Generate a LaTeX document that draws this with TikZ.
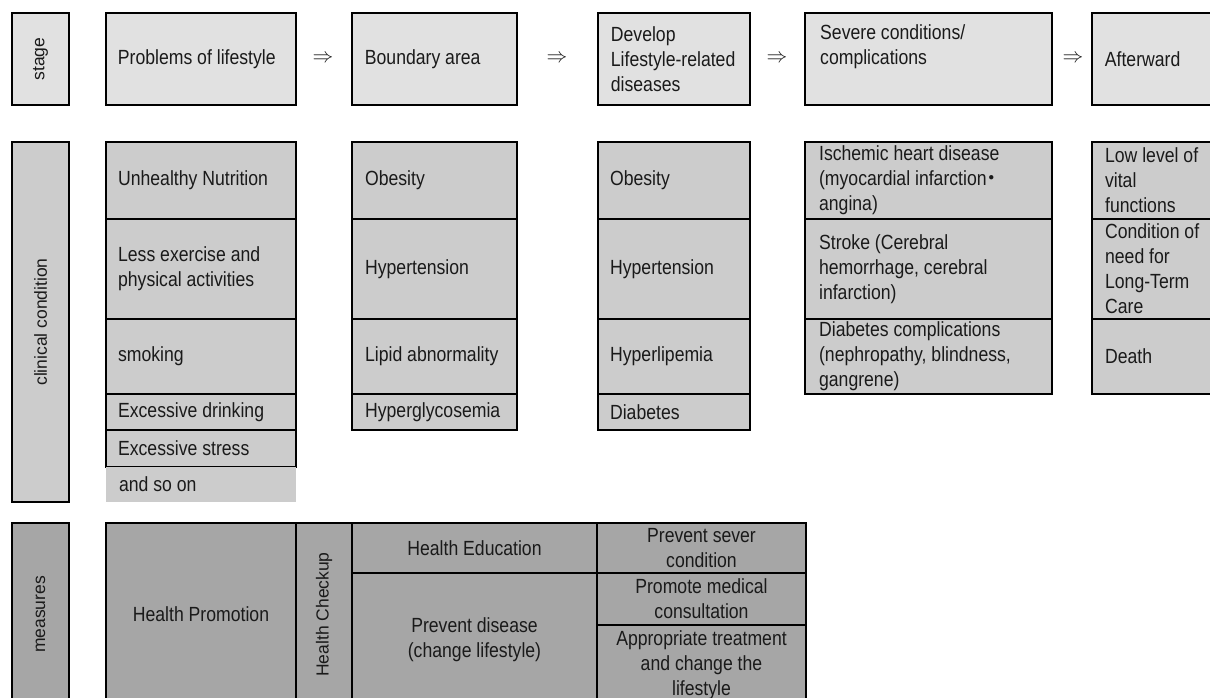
\documentclass[tikz,border=0pt]{standalone}
\usepackage{fontspec}
\setmainfont{Liberation Sans}[FakeStretch=0.86]
\newfontfamily\rotfont{Liberation Sans}
\newfontfamily\cjk{Noto Sans CJK JP}

\definecolor{topfill}{HTML}{E1E1E1}
\definecolor{clinfill}{HTML}{CCCCCC}
\definecolor{measfill}{HTML}{A6A6A6}
\definecolor{inkcol}{HTML}{1A1A1A}

\tikzset{
  topbox/.style={draw=black, line width=2.6pt, fill=topfill, inner sep=0pt},
  clinbox/.style={draw=black, line width=2.2pt, fill=clinfill, inner sep=0pt},
  plainbox/.style={draw=none, fill=clinfill, inner sep=0pt},
  measbox/.style={draw=black, line width=2.2pt, fill=measfill, inner sep=0pt},
  txt/.style={font=\fontsize{20.5}{25}\selectfont, text=inkcol, inner sep=0pt, align=left, anchor=west},
  ctxt/.style={font=\fontsize{20.5}{25}\selectfont, text=inkcol, inner sep=0pt, align=center},
  rotlabel/.style={font=\rotfont\fontsize{17.5}{20}\selectfont, text=inkcol, inner sep=0pt, rotate=90},
  flowsym/.style={font=\fontsize{22}{22}\selectfont, text=inkcol, inner sep=0pt}
}

% cell: name, x1, y1, x2, y2, style
\newcommand\cellbox[6]{%
  \node[#6, minimum width={#4-#2}, minimum height={#5-#3}] (#1) at ({(#2+#4)/2},{(#3+#5)/2}) {};}

\begin{document}
\begin{tikzpicture}[x=1pt, y=-1pt]
\useasboundingbox (0,0) rectangle (1210,698);

% ---------------- stage row ----------------
\cellbox{stage}{12}{13}{69}{105}{topbox}
\node[rotlabel] (stage-t) at (stage.center) {stage};

\cellbox{sprob}{106}{13}{296}{105}{topbox}
\node[txt] (sprob-t) at ([xshift=13pt]sprob.west) {Problems of lifestyle};
\node[flowsym] (ar1) at (323,59) {$\Rightarrow$};

\cellbox{sbound}{352}{13}{517}{105}{topbox}
\node[txt] (sbound-t) at ([xshift=14pt]sbound.west) {Boundary area};
\node[flowsym] (ar2) at (557,59) {$\Rightarrow$};

\cellbox{sdevel}{598}{13}{750}{105}{topbox}
\node[txt] (sdevel-t) at ([xshift=14pt]sdevel.west) {Develop\\Lifestyle-related\\diseases};
\node[flowsym] (ar3) at (777,59) {$\Rightarrow$};

\cellbox{ssevere}{805}{13}{1052}{105}{topbox}
\node[txt, anchor=north west] (ssevere-t) at (820,24) {Severe conditions/\\complications};
\node[flowsym] (ar4) at (1073,59) {$\Rightarrow$};

\cellbox{safter}{1092}{13}{1216}{105}{topbox}
\node[txt] (safter-t) at ([xshift=14pt]safter.west) {Afterward};

% ---------------- clinical condition row ----------------
\cellbox{clin}{12}{142}{69}{502}{clinbox}
\node[rotlabel] (clin-t) at (clin.center) {clinical condition};

% problems of lifestyle
\cellbox{pa1}{106}{142}{296}{219}{clinbox}
\node[txt] (pa1-t) at ([xshift=13pt]pa1.west) {Unhealthy Nutrition};
\cellbox{pa2}{106}{219}{296}{319}{clinbox}
\node[txt] (pa2-t) at ([xshift=13pt]pa2.west) {Less exercise and\\physical activities};
\cellbox{pa3}{106}{319}{296}{394}{clinbox}
\node[txt] (pa3-t) at ([xshift=13pt]pa3.west) {smoking};
\cellbox{pa4}{106}{394}{296}{430}{clinbox}
\node[txt] (pa4-t) at ([xshift=13pt]pa4.west) {Excessive drinking};
\cellbox{pa5}{106}{430}{296}{467}{clinbox}
\node[txt] (pa5-t) at ([xshift=13pt]pa5.west) {Excessive stress};
\cellbox{pa6}{106}{467}{296}{502}{plainbox}
\node[txt] (pa6-t) at ([xshift=13pt]pa6.west) {and so on};

% boundary area
\cellbox{pb1}{352}{142}{517}{219}{clinbox}
\node[txt] (pb1-t) at ([xshift=14pt]pb1.west) {Obesity};
\cellbox{pb2}{352}{219}{517}{319}{clinbox}
\node[txt] (pb2-t) at ([xshift=14pt]pb2.west) {Hypertension};
\cellbox{pb3}{352}{319}{517}{394}{clinbox}
\node[txt] (pb3-t) at ([xshift=14pt]pb3.west) {Lipid abnormality};
\cellbox{pb4}{352}{394}{517}{430}{clinbox}
\node[txt] (pb4-t) at ([xshift=14pt]pb4.west) {Hyperglycosemia};

% lifestyle-related diseases
\cellbox{pc1}{598}{142}{750}{219}{clinbox}
\node[txt] (pc1-t) at ([xshift=13pt]pc1.west) {Obesity};
\cellbox{pc2}{598}{219}{750}{319}{clinbox}
\node[txt] (pc2-t) at ([xshift=13pt]pc2.west) {Hypertension};
\cellbox{pc3}{598}{319}{750}{394}{clinbox}
\node[txt] (pc3-t) at ([xshift=13pt]pc3.west) {Hyperlipemia};
\cellbox{pc4}{598}{394}{750}{430}{clinbox}
\node[txt] (pc4-t) at ([xshift=13pt]pc4.west) {Diabetes};

% severe conditions
\cellbox{pd1}{805}{142}{1052}{219}{clinbox}
\node[txt] (pd1-t) at ([xshift=15pt]pd1.west) {Ischemic heart disease\\(myocardial infarction\kern-5pt{\cjk ・}\\angina)};
\cellbox{pd2}{805}{219}{1052}{319}{clinbox}
\node[txt] (pd2-t) at ([xshift=15pt]pd2.west) {Stroke (Cerebral\\hemorrhage, cerebral\\infarction)};
\cellbox{pd3}{805}{319}{1052}{394}{clinbox}
\node[txt] (pd3-t) at ([xshift=15pt]pd3.west) {Diabetes complications\\(nephropathy, blindness,\\gangrene)};

% afterward
\cellbox{pe1}{1092}{142}{1216}{219}{clinbox}
\node[txt] (pe1-t) at ([xshift=14pt]pe1.west) {Low level of\\vital\\functions};
\cellbox{pe2}{1092}{219}{1216}{319}{clinbox}
\node[txt] (pe2-t) at ([xshift=14pt]pe2.west) {Condition of\\need for\\Long-Term\\Care};
\cellbox{pe3}{1092}{319}{1216}{394}{clinbox}
\node[txt] (pe3-t) at ([xshift=14pt]pe3.west) {Death};

% ---------------- measures row ----------------
\cellbox{meas}{12}{523}{69}{706}{measbox}
\node[rotlabel] (meas-t) at (meas.center) {measures};

\cellbox{hprom}{106}{523}{296}{706}{measbox}
\node[ctxt] (hprom-t) at (hprom.center) {Health Promotion};
\cellbox{hchk}{296}{523}{352}{706}{measbox}
\node[rotlabel] (hchk-t) at (hchk.center) {Health Checkup};
\cellbox{hedu}{352}{523}{597}{573}{measbox}
\node[ctxt] (hedu-t) at (hedu.center) {Health Education};
\cellbox{hprev}{352}{573}{597}{706}{measbox}
\node[ctxt] (hprev-t) at (hprev.center) {Prevent disease\\(change lifestyle)};
\cellbox{mr1}{597}{523}{806}{573}{measbox}
\node[ctxt] (mr1-t) at (mr1.center) {Prevent sever\\condition};
\cellbox{mr2}{597}{573}{806}{625}{measbox}
\node[ctxt] (mr2-t) at (mr2.center) {Promote medical\\consultation};
\cellbox{mr3}{597}{625}{806}{706}{measbox}
\node[ctxt] (mr3-t) at (mr3.center) {Appropriate treatment\\and change the\\lifestyle};

\end{tikzpicture}
\end{document}
